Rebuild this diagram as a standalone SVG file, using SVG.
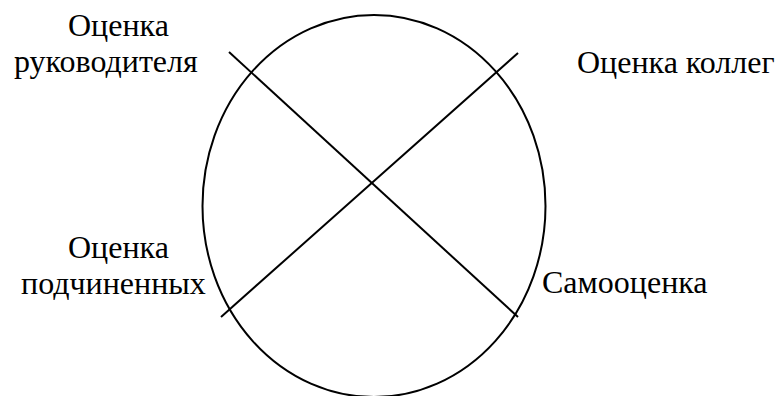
<svg xmlns="http://www.w3.org/2000/svg" width="778" height="396" viewBox="0 0 778 396">
<style>
.t{font-family:'Liberation Serif','Times New Roman',serif;font-size:32px;fill:#000}
.s{fill:none;stroke:#000;stroke-width:2}
</style>
<rect width="778" height="396" fill="#fff"/>
<g id="circle"><ellipse class="s" cx="374" cy="206" rx="171.5" ry="191"/></g>
<g id="connectors">
<line class="s" x1="229" y1="52" x2="518" y2="317"/>
<line class="s" x1="518" y1="53" x2="221" y2="317"/>
</g>
<g id="label-manager"><text class="t" x="68" y="36">Оценка</text><text class="t" x="14" y="72">руководителя</text></g>
<g id="label-peers"><text class="t" x="577" y="73">Оценка коллег</text></g>
<g id="label-subordinates"><text class="t" x="68" y="258">Оценка</text><text class="t" x="21" y="294">подчиненных</text></g>
<g id="label-self"><text class="t" x="542" y="293">Самооценка</text></g>
</svg>
